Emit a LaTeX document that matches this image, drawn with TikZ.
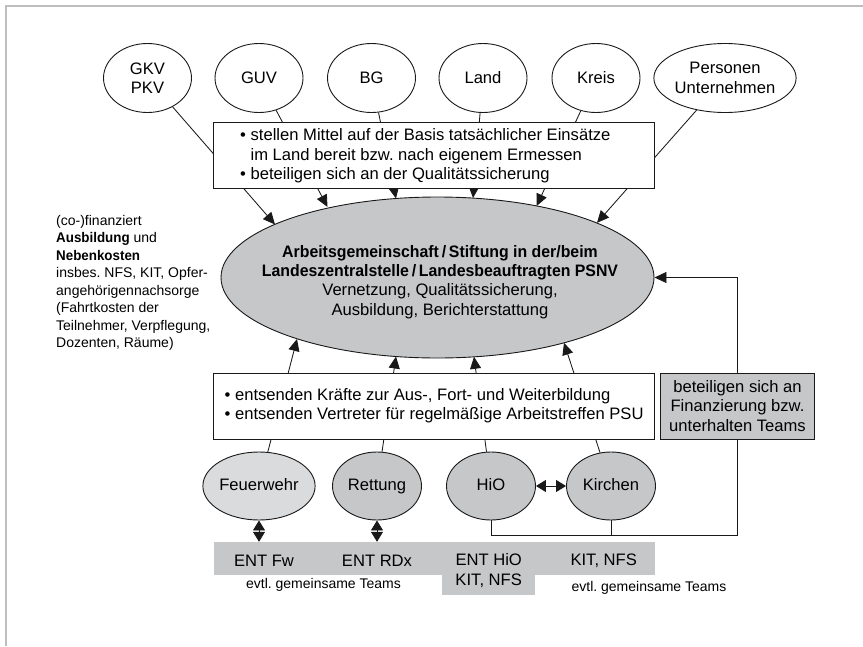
\documentclass[tikz,border=0pt]{standalone}
\usepackage{fontspec}
\setmainfont{Liberation Sans}[BoldFeatures={FakeStretch=0.955}]
\usetikzlibrary{arrows.meta,shapes.geometric}
\definecolor{midgray}{RGB}{197,199,201}
\definecolor{lightfill}{RGB}{218,219,221}
\definecolor{framegray}{RGB}{190,190,190}
\definecolor{ink}{RGB}{25,25,25}
\pgfdeclarelayer{bg}
\pgfsetlayers{bg,main}
\frenchspacing
\begin{document}
\begin{tikzpicture}[x=1pt,y=-1pt,
  font=\fontsize{16.6}{19.3}\selectfont,
  shp/.style={draw=ink,line width=0.9pt},
  topell/.style={shp,ellipse,fill=white,minimum width=88pt,minimum height=69pt,inner sep=0pt,align=center},
  lowell/.style={shp,ellipse,fill=midgray,minimum width=89pt,minimum height=68pt,inner sep=0pt,text height=12pt,text depth=3.5pt},
  conn/.style={draw=ink,line width=0.85pt},
  arr/.style={conn,-{Triangle[length=12pt,width=11pt]}},
  darr/.style={conn,{Triangle[length=10pt,width=12pt]}-{Triangle[length=10pt,width=12pt]}},
  txt/.style={inner sep=0pt,align=center},
  smalltxt/.style={inner sep=0pt,font=\fontsize{14}{17.5}\selectfont},
  graybar/.style={fill=midgray,inner sep=0pt}
]
\useasboundingbox (0,0) rectangle (863,646);
\draw[framegray,line width=1.5pt] (6,646) -- (6,6) -- (863,6);

% top ellipses
\node[topell] (gkv) at (147.5,78) {GKV\\PKV};
\node[topell] (guv) at (259,78) {GUV};
\node[topell] (bg) at (371.5,78) {BG};
\node[topell] (land) at (483,78) {Land};
\node[topell] (kreis) at (596,78) {Kreis};
\node[topell,minimum width=122pt] (pers) at (725,78) {Personen\\Unternehmen};

% top box
\node[shp,fill=white,minimum width=440.5pt,minimum height=66.7pt,inner sep=0pt] (tb) at (433.75,155.35) {};
\node[txt,anchor=west,align=left] (tbt) at (240,156)
  {\textbullet\ stellen Mittel auf der Basis tatsächlicher Einsätze\\\phantom{\textbullet\ }im Land bereit bzw. nach eigenem Ermessen\\\textbullet\ beteiligen sich an der Qualitätssicherung};

% central ellipse
\node[shp,ellipse,fill=midgray,minimum width=433pt,minimum height=161pt,inner sep=0pt] (ell) at (437.5,277.5) {};
\node[txt] (et) at (440,282) {{\bfseries Arbeitsgemeinschaft\,/\,Stiftung in der/beim}\\{\bfseries Landeszentralstelle\,/\,Landesbeauftragten PSNV}\\Vernetzung, Qualitätssicherung,\\Ausbildung, Berichterstattung};

% left text
\node[smalltxt,anchor=west,align=left] (lt) at (56,283)
  {(co-)finanziert\\\textbf{Ausbildung} und\\\textbf{Nebenkosten}\\insbes. NFS, KIT, Opfer-\\angehörigennachsorge\\(Fahrtkosten der\\Teilnehmer, Verpflegung,\\Dozenten, Räume)};

% lower box
\node[shp,fill=white,minimum width=440.5pt,minimum height=66pt,inner sep=0pt] (lb) at (433.75,406) {};
\node[txt,anchor=west,align=left] (lbt) at (224.5,406)
  {\textbullet\ entsenden Kräfte zur Aus-, Fort- und Weiterbildung\\\textbullet\ entsenden Vertreter für regelmäßige Arbeitstreffen PSU};

% right gray box
\node[shp,fill=midgray,minimum width=154pt,minimum height=66pt,inner sep=0pt,align=center] (fin) at (737.5,406)
  {beteiligen sich an\\Finanzierung bzw.\\unterhalten Teams};

% lower ellipses
\node[lowell,fill=lightfill] (fw) at (259,486) {Feuerwehr};
\node[lowell] (ret) at (377,486) {Rettung};
\node[lowell] (hio) at (491,486) {HiO};
\node[lowell] (kir) at (611,486) {Kirchen};

% bar
\node[graybar,minimum width=441.5pt,minimum height=33pt] (bar) at (434.25,558.5) {};
\node[graybar,minimum width=92.7pt,minimum height=25pt] (barx) at (488.65,582.5) {};
\node[txt] (l1) at (264,561) {ENT Fw};
\node[txt] (l2) at (377,561) {ENT RDx};
\node[txt] (l3) at (488.7,570.5) {ENT HiO\\KIT, NFS};
\node[txt] (l4) at (603.7,561) {KIT, NFS};
\node[smalltxt] (n1) at (323.5,585) {evtl. gemeinsame Teams};
\node[smalltxt] (n2) at (649,588) {evtl. gemeinsame Teams};

% target points on the central ellipse
\coordinate (t1) at (275,224.5);
\coordinate (t2) at (327.5,207);
\coordinate (t3) at (396,198.5);
\coordinate (t4) at (473,198);
\coordinate (t5) at (536.6,206);
\coordinate (t6) at (597,222.8);
\coordinate (b1) at (297,339);
\coordinate (b2) at (396,356.5);
\coordinate (b3) at (474,356.8);
\coordinate (b4) at (564,342.8);
\coordinate (rc) at (737.5,535);

\begin{pgfonlayer}{bg}
\draw[arr] (gkv) -- (t1);
\draw[arr] (guv) -- (t2);
\draw[arr] (bg) -- (t3);
\draw[arr] (land) -- (t4);
\draw[arr] (kreis) -- (t5);
\draw[arr] (pers) -- (t6);
\draw[arr] (fw) -- (b1);
\draw[arr] (ret) -- (b2);
\draw[arr] (hio) -- (b3);
\draw[arr] (kir) -- (b4);
\draw[arr] (hio.south) |- (rc) |- (ell.east);
\draw[conn] (kir.south) -- (kir.south |- rc);
\end{pgfonlayer}
\draw[darr] (hio) -- (kir);
\draw[darr] (fw.south) -- (fw.south |- bar.north);
\draw[darr] (ret.south) -- (ret.south |- bar.north);
\end{tikzpicture}
\end{document}
